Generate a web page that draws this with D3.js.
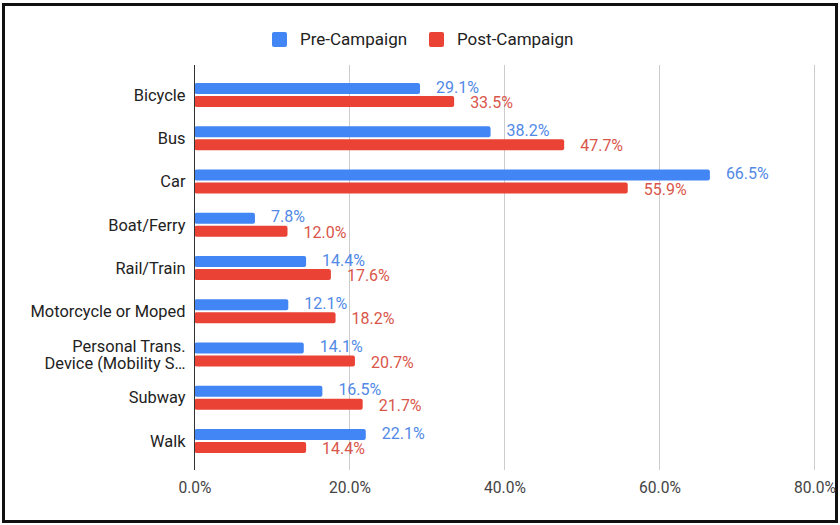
<!DOCTYPE html>
<html>
<head>
<meta charset="utf-8">
<script src="https://cdn.jsdelivr.net/npm/d3@7"></script>
<style>
  html, body { margin: 0; padding: 0; background: #fff; }
  svg { display: block; font-family: Roboto, Arial, sans-serif; }
</style>
</head>
<body>
<svg id="chart" width="840" height="525"></svg>
<script>
// Share of trips by mode, before and after the campaign
const categories = [
  "Bicycle",
  "Bus",
  "Car",
  "Boat/Ferry",
  "Rail/Train",
  "Motorcycle or Moped",
  "Personal Trans.\nDevice (Mobility S…",
  "Subway",
  "Walk"
];
const preCampaign  = [29.1, 38.2, 66.5, 7.8, 14.4, 12.1, 14.1, 16.5, 22.1];
const postCampaign = [33.5, 47.7, 55.9, 12.0, 17.6, 18.2, 20.7, 21.7, 14.4];
const seriesNames  = ["Pre-Campaign", "Post-Campaign"];
const tickValues   = [0, 20, 40, 60, 80];

const colors = ["#4285F4", "#EA4335"];
const labelColors = ["#5289E6", "#D9564A"];

const svg = d3.select("#chart");

// Frame
svg.append("rect")
  .attr("x", 3.5).attr("y", 4.5)
  .attr("width", 833).attr("height", 517)
  .attr("fill", "#fff")
  .attr("stroke", "#111")
  .attr("stroke-width", 3);

const x = d3.scaleLinear().domain([0, 80]).range([194.5, 814.5]);
const y = d3.scaleBand().domain(categories).range([73.4, 462.6]).paddingInner(0.445).paddingOuter(0.2225);
const ySub = d3.scaleBand().domain(seriesNames).range([0, y.bandwidth()]).paddingInner(0.14);

const gridTop = 65, gridBottom = 470;

// Vertical gridlines
svg.append("g")
  .selectAll("line")
  .data(tickValues.filter(d => d > 0))
  .join("line")
  .attr("x1", d => x(d)).attr("x2", d => x(d))
  .attr("y1", gridTop).attr("y2", gridBottom)
  .attr("stroke", "#cccccc")
  .attr("stroke-width", 1);

// X axis tick labels
const xAxis = d3.axisBottom(x)
  .tickValues(tickValues)
  .tickFormat(d => d.toFixed(1) + "%")
  .tickSize(0)
  .tickPadding(0);
const gx = svg.append("g")
  .attr("transform", `translate(0, ${gridBottom + 12})`)
  .call(xAxis);
gx.select(".domain").remove();
gx.selectAll("text")
  .attr("font-family", "Roboto, Arial, sans-serif")
  .attr("font-size", 15.6)
  .attr("fill", "#444");

// Rows of data
const rows = categories.map((c, i) => ({ cat: c, values: [preCampaign[i], postCampaign[i]] }));

const groups = svg.append("g")
  .selectAll("g")
  .data(rows)
  .join("g")
  .attr("transform", d => `translate(0, ${y(d.cat)})`);

groups.selectAll("rect")
  .data(d => d.values.map((v, k) => ({ v, k })))
  .join("rect")
  .attr("x", x(0))
  .attr("y", d => ySub(seriesNames[d.k]))
  .attr("width", d => x(d.v) - x(0))
  .attr("height", ySub.bandwidth())
  .attr("rx", 2)
  .attr("fill", d => colors[d.k]);

// Value labels at the end of each bar
groups.selectAll("text.val")
  .data(d => d.values.map((v, k) => ({ v, k })))
  .join("text")
  .attr("class", "val")
  .attr("x", d => x(d.v) + 16)
  .attr("y", d => ySub(seriesNames[d.k]) + ySub.bandwidth() / 2 + (d.k === 0 ? -1.5 : 1))
  .attr("dy", "0.35em")
  .attr("font-size", 16)
  .attr("fill", d => labelColors[d.k])
  .text(d => d.v.toFixed(1) + "%");

// Category labels
const yAxis = d3.axisLeft(y).tickSize(0).tickPadding(9).tickFormat(() => "");
const gy = svg.append("g").attr("transform", `translate(${x(0)}, 0)`).call(yAxis);
gy.select(".domain").remove();
gy.selectAll(".tick text").each(function(d) {
  const lines = d.split("\n");
  const t = d3.select(this)
    .attr("font-family", "Roboto, Arial, sans-serif")
    .attr("font-size", 16.4)
    .attr("fill", "#222")
    .attr("dy", null);
  lines.forEach((ln, i) => {
    t.append("tspan")
      .attr("x", -9)
      .attr("dy", i === 0 ? (0.35 - (lines.length - 1) * 0.53) + "em" : "1.06em")
      .text(ln);
  });
});

// Baseline axis
svg.append("line")
  .attr("x1", x(0)).attr("x2", x(0))
  .attr("y1", gridTop).attr("y2", gridBottom)
  .attr("stroke", "#333")
  .attr("stroke-width", 1);

// Legend
const legend = svg.append("g").attr("transform", "translate(272, 32)");
const legendX = [0, 157];
seriesNames.forEach((name, k) => {
  const g = legend.append("g").attr("transform", `translate(${legendX[k]}, 0)`);
  g.append("rect")
    .attr("width", 15).attr("height", 15).attr("rx", 2)
    .attr("fill", colors[k]);
  g.append("text")
    .attr("x", 28).attr("y", 7.5).attr("dy", "0.35em")
    .attr("font-size", 17)
    .attr("fill", "#222")
    .text(name);
});
</script>
</body>
</html>
